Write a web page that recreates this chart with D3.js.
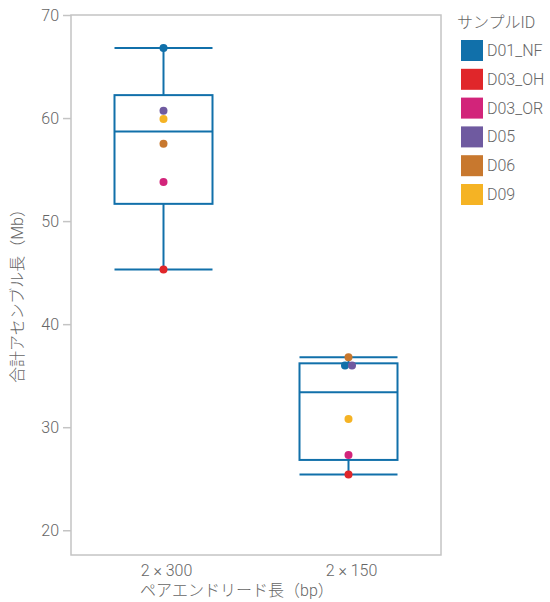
<!DOCTYPE html>
<html><head><meta charset="utf-8">
<script src="https://cdn.jsdelivr.net/npm/d3@7"></script>
<style>
body{margin:0;background:#fff;}
text{font-family:Roboto,"Noto Sans CJK JP",sans-serif;font-weight:300;}
</style></head>
<body>
<svg id="chart" width="550" height="602"></svg>
<script>
const categories = ["2 × 300", "2 × 150"];
const samples = ["D01_NF", "D03_OH", "D03_OR", "D05", "D06", "D09"];
const colors = ["#1170aa", "#e0262a", "#d2247a", "#6f5aa0", "#c8782e", "#f5b324"];
const values300 = [66.8, 45.3, 53.8, 60.7, 57.5, 59.9];
const values150 = [36.0, 25.4, 27.3, 36.0, 36.8, 30.8];
const yTicks = [20, 30, 40, 50, 60, 70];

const svg = d3.select("#chart");
const m = {l:71, r:441, t:15, b:555};
const x = d3.scaleBand().domain(categories).range([m.l, m.r]);
const y = d3.scaleLinear().domain([17.6, 70]).range([m.b, m.t]);
const color = d3.scaleOrdinal().domain(samples).range(colors);
const grey = "#666";
const frame = "#c4c4c4";
const boxColor = "#1170aa";

function q(sorted, p){
  const n = sorted.length, pos = p*(n+1) - 1;
  const lo = Math.max(0, Math.min(n-1, Math.floor(pos)));
  const hi = Math.min(n-1, lo+1);
  const f = Math.max(0, Math.min(1, pos - lo));
  return sorted[lo] + f*(sorted[hi]-sorted[lo]);
}

svg.append("rect").attr("x", m.l).attr("y", m.t).attr("width", m.r-m.l).attr("height", m.b-m.t)
  .attr("fill","none").attr("stroke", frame).attr("stroke-width", 1.5);

const yAxis = svg.append("g").attr("transform", `translate(${m.l},0)`)
  .call(d3.axisLeft(y).tickValues(yTicks).tickSize(8).tickPadding(4));
yAxis.select(".domain").remove();
yAxis.selectAll("line").attr("stroke", frame).attr("stroke-width", 1.5);
yAxis.selectAll("text").attr("fill", grey).style("font-size","16px")
  .style("font-family","Roboto,'Noto Sans CJK JP',sans-serif").style("font-weight", 300);

const xAxis = svg.append("g").attr("transform", `translate(0,${m.b})`)
  .call(d3.axisBottom(x).tickSize(0).tickPadding(10));
xAxis.select(".domain").remove();
xAxis.selectAll("text").attr("fill", grey).style("font-size","16px")
  .style("font-family","Roboto,'Noto Sans CJK JP',sans-serif").style("font-weight", 300)
  .attr("dx", 3);

svg.append("text").attr("transform", `translate(23,292) rotate(-90)`)
  .attr("text-anchor","middle").attr("fill", grey).style("font-size","16px")
  .text("合計アセンブル長（Mb）");
svg.append("text").attr("x", 237).attr("y", 596)
  .attr("text-anchor","middle").attr("fill", grey).style("font-size","16px")
  .text("ペアエンドリード長（bp）");

const groups = [values300, values150];
const bw = 98;
groups.forEach((vals, gi) => {
  const cx = x(categories[gi]) + x.bandwidth()/2;
  const s = vals.slice().sort(d3.ascending);
  const q1 = q(s, 0.25), med = q(s, 0.5), q3 = q(s, 0.75);
  const lo = s[0], hi = s[s.length-1];
  const g = svg.append("g").attr("stroke", boxColor).attr("stroke-width", 2).attr("fill","none");
  g.append("line").attr("x1", cx).attr("x2", cx).attr("y1", y(hi)).attr("y2", y(q3));
  g.append("line").attr("x1", cx).attr("x2", cx).attr("y1", y(q1)).attr("y2", y(lo));
  g.append("line").attr("x1", cx-bw/2).attr("x2", cx+bw/2).attr("y1", y(hi)).attr("y2", y(hi));
  g.append("line").attr("x1", cx-bw/2).attr("x2", cx+bw/2).attr("y1", y(lo)).attr("y2", y(lo));
  g.append("rect").attr("x", cx-bw/2).attr("width", bw).attr("y", y(q3)).attr("height", y(q1)-y(q3)).attr("fill","#fff");
  g.append("line").attr("x1", cx-bw/2).attr("x2", cx+bw/2).attr("y1", y(med)).attr("y2", y(med));

  const counts = {};
  vals.forEach(v => counts[v] = (counts[v]||0) + 1);
  const seen = {};
  vals.forEach((v, i) => {
    const n = counts[v], k = seen[v] = (seen[v]===undefined ? 0 : seen[v]+1);
    const off = (k - (n-1)/2) * 7;
    svg.append("circle").attr("cx", cx + off).attr("cy", y(v)).attr("r", 4)
      .attr("fill", color(samples[i]));
  });
});

svg.append("text").attr("x", 457).attr("y", 28).attr("fill", grey)
  .style("font-size","16px").text("サンプルID");
const lg = svg.append("g");
samples.forEach((sName, i) => {
  const yy = 40 + i*28.8;
  lg.append("rect").attr("x", 461).attr("y", yy).attr("width", 22).attr("height", 21).attr("fill", color(sName));
  lg.append("text").attr("x", 487).attr("y", yy + 16).attr("fill", grey)
    .style("font-size","16px").text(sName);
});
</script>
</body></html>
